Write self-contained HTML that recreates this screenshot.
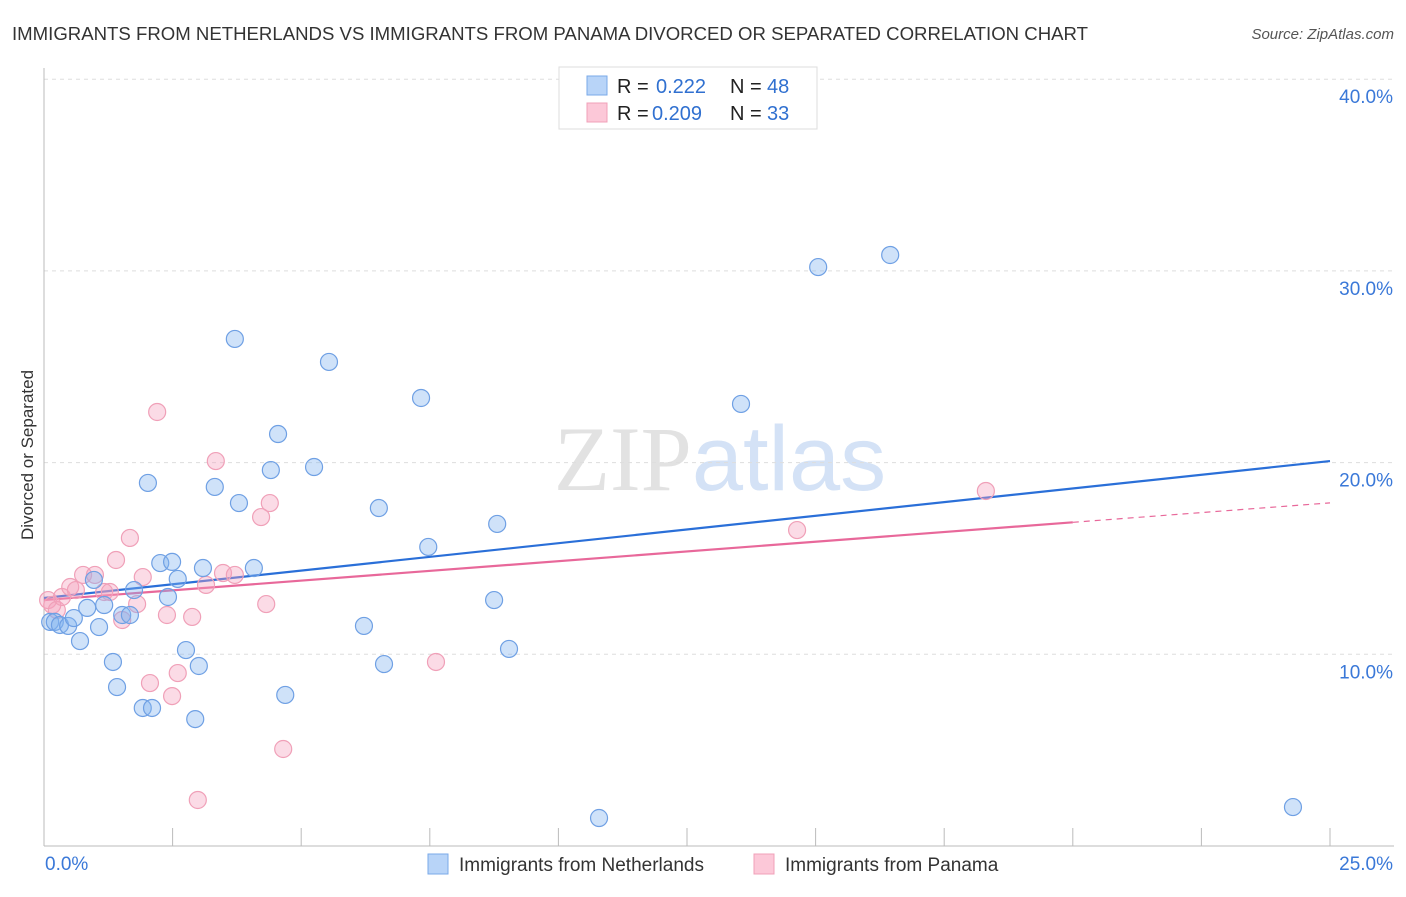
<!DOCTYPE html>
<html><head><meta charset="utf-8">
<style>
body{margin:0;background:#fff;font-family:"Liberation Sans",sans-serif;}
svg text{font-family:"Liberation Sans",sans-serif;}
</style></head>
<body>
<svg id="chart" width="1406" height="892" xmlns="http://www.w3.org/2000/svg">
<text x="12" y="40" font-size="18" fill="#333" textLength="1076" lengthAdjust="spacingAndGlyphs">IMMIGRANTS FROM NETHERLANDS VS IMMIGRANTS FROM PANAMA DIVORCED OR SEPARATED CORRELATION CHART</text>
<text x="1394" y="39" font-size="15" fill="#555" font-style="italic" text-anchor="end">Source: ZipAtlas.com</text>
<text x="720" y="490" font-size="92" text-anchor="middle"><tspan fill="#e2e2e2" font-family="Liberation Serif">ZIP</tspan><tspan fill="#d4e2f6">atlas</tspan></text>
<text transform="translate(33,455) rotate(-90)" font-size="17" fill="#333" text-anchor="middle">Divorced or Separated</text>
<g id="grid"></g>
<g id="ticks"></g>
<g id="trends"></g>
<g id="pts"></g>
<g>
<rect x="559" y="67" width="258" height="62" fill="#fff" stroke="#ddd"/>
<rect x="587" y="76" width="20" height="19" fill="#b8d4f8" stroke="#7aaae8"/>
<rect x="587" y="103" width="20" height="19" fill="#fcc8d8" stroke="#f0a0b8"/>
<text x="617" y="93" font-size="20" fill="#222">R =</text>
<text x="656" y="93" font-size="20" fill="#3070d0">0.222</text>
<text x="730" y="93" font-size="20" fill="#222">N =</text>
<text x="767" y="93" font-size="20" fill="#3070d0">48</text>
<text x="617" y="120" font-size="20" fill="#222">R =</text>
<text x="652" y="120" font-size="20" fill="#3070d0">0.209</text>
<text x="730" y="120" font-size="20" fill="#222">N =</text>
<text x="767" y="120" font-size="20" fill="#3070d0">33</text>
</g>
<g>
<rect x="428" y="854" width="20" height="20" fill="#b8d4f8" stroke="#7aaae8"/>
<text x="459" y="871" font-size="19" fill="#333">Immigrants from Netherlands</text>
<rect x="754" y="854" width="20" height="20" fill="#fcc8d8" stroke="#f0a0b8"/>
<text x="785" y="871" font-size="19" fill="#333">Immigrants from Panama</text>
</g>
</svg>
<script>
const blueX=[0.12,0.21,0.31,0.47,0.58,0.70,0.84,0.97,1.07,1.17,1.34,1.42,1.52,1.67,1.75,1.92,2.10,2.26,2.41,2.49,2.60,2.76,2.94,3.01,3.09,2.02,3.32,3.71,3.79,4.08,4.41,4.55,4.69,5.25,5.54,6.22,6.51,6.61,7.33,7.47,8.75,8.81,9.04,10.79,13.55,15.05,16.45,24.28];
const blueY=[11.69,11.69,11.53,11.48,11.89,10.69,12.42,13.88,11.42,12.57,9.60,8.29,12.05,12.05,13.35,7.20,7.20,14.76,12.99,14.82,13.93,10.22,6.62,9.39,14.50,18.94,18.73,26.45,17.89,14.50,19.61,21.49,7.88,19.77,25.25,11.48,17.63,9.49,23.37,15.60,12.83,16.80,10.28,1.46,23.06,30.20,30.83,2.03];
const pinkX=[0.08,0.16,0.25,0.35,0.51,0.62,0.76,0.99,1.17,1.28,1.40,1.52,1.67,1.81,1.92,2.06,2.20,2.39,2.49,2.60,2.88,2.99,3.15,3.34,3.48,3.71,4.22,4.32,4.39,4.65,7.62,14.64,18.31];
const pinkY=[12.83,12.57,12.31,12.99,13.51,13.35,14.14,14.14,13.25,13.25,14.92,11.79,16.07,12.62,14.03,8.50,22.64,12.05,7.82,9.02,11.95,2.40,13.62,20.08,14.24,14.14,17.16,12.62,17.89,5.06,9.60,16.48,18.52];
const yTicks=[10,20,30,40];
const yTickLabels=["10.0%","20.0%","30.0%","40.0%"];
const xTicks=[0,2.5,5,7.5,10,12.5,15,17.5,20,22.5,25];
const xEndLabels=["0.0%","25.0%"];
const blueTrend=[12.94,20.08];
const pinkTrend=[12.83,17.9];
const pinkSolidEnd=20;

const NS="http://www.w3.org/2000/svg";
const sx=v=>44+v*51.44, sy=v=>846-v*19.17;
function mk(tag,attrs,parent){const e=document.createElementNS(NS,tag);for(const k in attrs)e.setAttribute(k,attrs[k]);parent.appendChild(e);return e;}
const grid=document.getElementById('grid'),ticks=document.getElementById('ticks'),trends=document.getElementById('trends'),pts=document.getElementById('pts');
yTicks.forEach((t,i)=>{
  const l=mk('line',{x1:44,x2:1394,y1:sy(t),y2:sy(t),stroke:'#ddd','stroke-dasharray':'4,4'},grid);
  
  
  const tx=mk('text',{x:1393,y:sy(t)+24,'font-size':19,fill:'#3a78d8','text-anchor':'end'},ticks);
  tx.textContent=yTickLabels[i];
  
  
});
const ax=mk('line',{x1:44,x2:44,y1:68,y2:846,stroke:'#bbb'},ticks);


const bx=mk('line',{x1:44,x2:1394,y1:846,y2:846,stroke:'#bbb'},ticks);


xTicks.forEach(t=>{
  const l=mk('line',{x1:sx(t),x2:sx(t),y1:828,y2:846,stroke:'#bbb'},ticks);
  
  
});
[[0,'start',45],[25,'end',1393]].forEach((d,i)=>{
  const tx=mk('text',{x:d[2],y:870,'font-size':19,fill:'#3a78d8','text-anchor':d[1]},ticks);
  tx.textContent=xEndLabels[i];
  
  
});
function pt(x,y,fill,stroke,name){
  const c=mk('circle',{cx:sx(x),cy:sy(y),r:8.5,fill:fill,stroke:stroke,'stroke-width':1.2},pts);
  
  
}
pinkX.forEach((x,i)=>pt(x,pinkY[i],'rgba(244,160,188,0.38)','#f0a0b8','point-panama'));
blueX.forEach((x,i)=>pt(x,blueY[i],'rgba(130,180,240,0.38)','#6fa0e4','point-netherlands'));
const b=mk('line',{x1:sx(0),y1:sy(blueTrend[0]),x2:sx(25),y2:sy(blueTrend[1]),stroke:'#2a6fd8','stroke-width':2.2},trends);


const py=x=>pinkTrend[0]+(pinkTrend[1]-pinkTrend[0])*x/25;
const p=mk('line',{x1:sx(0),y1:sy(py(0)),x2:sx(pinkSolidEnd),y2:sy(py(pinkSolidEnd)),stroke:'#e8689a','stroke-width':2.2},trends);


const pd=mk('line',{x1:sx(pinkSolidEnd),y1:sy(py(pinkSolidEnd)),x2:sx(25),y2:sy(py(25)),stroke:'#e8689a','stroke-width':1.2,'stroke-dasharray':'6,5'},trends);


</script>
</body></html>
